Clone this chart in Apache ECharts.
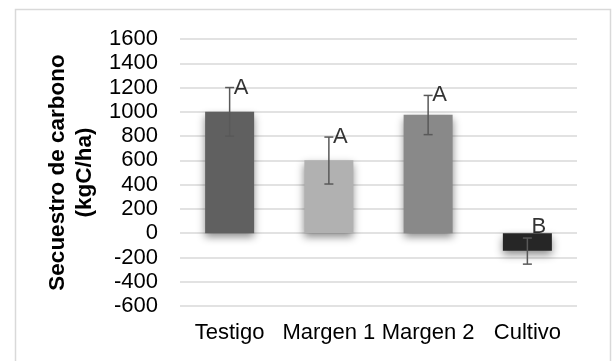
<!DOCTYPE html>
<html><head><meta charset="utf-8">
<script src="https://cdn.jsdelivr.net/npm/echarts@6/dist/echarts.min.js"></script>
<style>html,body{margin:0;padding:0;background:#fff}#c{width:613px;height:361px}</style>
</head><body><div id="c"></div>
<script>
var categories = ['Testigo', 'Margen 1', 'Margen 2', 'Cultivo'];
var values = [1000, 600, 975, -145];
var errLow = [800, 405, 812, -255];
var errHigh = [1200, 792, 1135, -40];
var groupLetters = ['A', 'A', 'A', 'B'];
var letterAnchor = [1200, 792, 1135, 55];
var barColors = ['#606060', '#b1b1b1', '#898989', '#262626'];
var yTicks = {min: -600, max: 1600, step: 200};

var font = '"Liberation Sans", Arial, sans-serif';
var chart = echarts.init(document.getElementById('c'), null, {renderer: 'canvas'});
chart.setOption({
  animation: false,
  backgroundColor: '#fff',
  graphic: [{
    type: 'rect', left: 13, top: 7, shape: {width: 595, height: 370},
    style: {fill: 'none', stroke: '#d9d9d9', lineWidth: 1.5}, silent: true
  }],
  grid: {left: 180, right: 36, top: 39, bottom: 55, containLabel: false},
  xAxis: {
    type: 'category', data: categories,
    axisLine: {show: false}, axisTick: {show: false},
    axisLabel: {fontFamily: font, fontSize: 22, color: '#000', margin: 16, interval: 0}
  },
  yAxis: {
    type: 'value', min: yTicks.min, max: yTicks.max, interval: yTicks.step,
    name: 'Secuestro de carbono\n(kgC/ha)', nameLocation: 'middle', nameGap: 78,
    nameTextStyle: {fontFamily: font, fontSize: 22.5, fontWeight: 'bold', color: '#000', lineHeight: 27},
    axisLine: {show: false}, axisTick: {show: false},
    axisLabel: {fontFamily: font, fontSize: 22, color: '#000', margin: 22,
      formatter: function (v) { return String(v); }},
    splitLine: {lineStyle: {color: '#d9d9d9', width: 1.5}}
  },
  series: [{
    type: 'bar', barWidth: 49,
    data: values.map(function (v, i) {
      return {value: v, itemStyle: {color: barColors[i]}};
    }),
    itemStyle: {shadowColor: 'rgba(0,0,0,0.45)', shadowBlur: 8, shadowOffsetY: 4}
  }, {
    type: 'custom',
    data: categories.map(function (c, i) { return [i, errLow[i], errHigh[i]]; }),
    renderItem: function (params, api) {
      var lo = api.coord([api.value(0), api.value(1)]);
      var hi = api.coord([api.value(0), api.value(2)]);
      var hw = 4.5;
      var st = {stroke: '#595959', lineWidth: 1.5};
      return {type: 'group', children: [
        {type: 'line', shape: {x1: lo[0], y1: lo[1], x2: hi[0], y2: hi[1]}, style: st},
        {type: 'line', shape: {x1: lo[0] - hw, y1: lo[1], x2: lo[0] + hw, y2: lo[1]}, style: st},
        {type: 'line', shape: {x1: hi[0] - hw, y1: hi[1], x2: hi[0] + hw, y2: hi[1]}, style: st}
      ]};
    },
    z: 5
  }, {
    type: 'scatter', symbolSize: 0,
    data: letterAnchor.map(function (v, i) { return [i, v]; }),
    label: {
      show: true, position: 'right', distance: 4,
      formatter: function (p) { return groupLetters[p.dataIndex]; },
      fontFamily: font, fontSize: 22, color: '#000'
    },
    z: 6
  }]
});
</script></body></html>
